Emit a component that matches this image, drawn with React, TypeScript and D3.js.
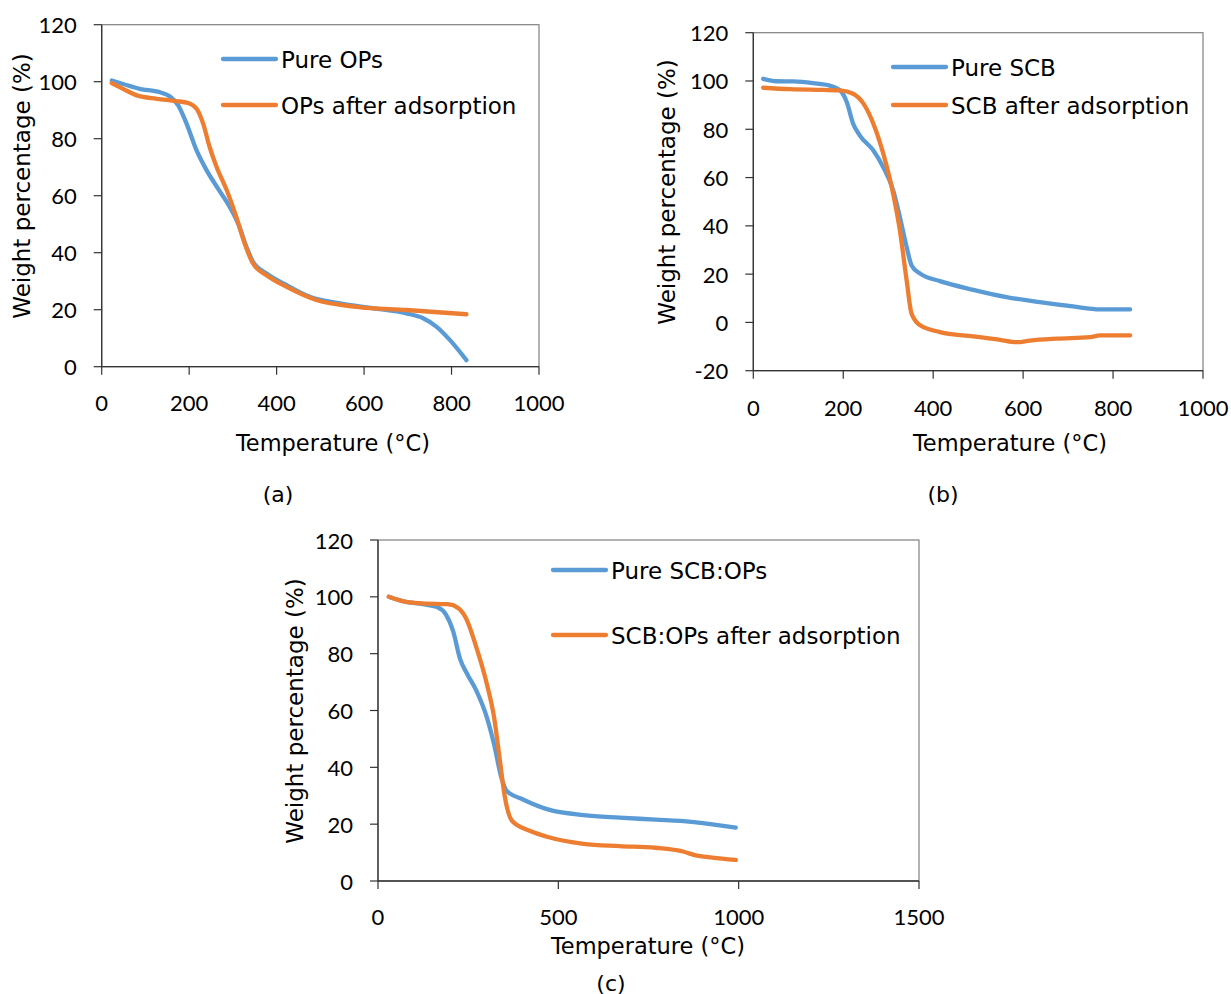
import React from "react";
import * as d3 from "d3";

// ---------- DATA ----------
// Panel (a)
const aPureT = [23, 49, 87, 133, 156, 175, 194, 217, 240, 266, 293, 312, 331, 346, 377, 423, 476, 545, 621, 697, 735, 766, 796, 834];
const aPureW = [100.4, 99.2, 97.5, 96.3, 94.8, 91.7, 85.3, 75.9, 68.9, 62.5, 56, 50.2, 42, 36.8, 32.7, 28.6, 24.5, 22.2, 20.5, 18.7, 17, 14, 9.4, 2.3];
const aAdsT = [23, 49, 80, 126, 171, 198, 217, 232, 247, 263, 286, 308, 327, 346, 377, 423, 491, 583, 697, 834];
const aAdsW = [99.5, 97.5, 95.2, 94, 93.2, 92.5, 90.5, 85.3, 77, 70, 61.9, 52.5, 43.2, 36.2, 32.1, 28, 23.4, 21, 19.9, 18.4];

// Panel (b)
const bPureT = [22, 52, 89, 133, 170, 193, 208, 222, 237, 267, 289, 311, 326, 341, 352, 371, 415, 489, 563, 637, 711, 771, 838];
const bPureW = [100.9, 99.9, 99.8, 99.1, 98.1, 96.1, 91.2, 82.3, 77.4, 71.2, 64.3, 54.7, 43.6, 31.2, 23.6, 20.2, 17.1, 13.5, 10.5, 8.4, 6.6, 5.4, 5.4];
const bAdsT = [22, 82, 156, 193, 222, 245, 267, 289, 311, 326, 341, 352, 371, 415, 489, 549, 586, 615, 675, 749, 771, 838];
const bAdsW = [97.2, 96.6, 96.3, 96.1, 94.7, 90.6, 82.3, 69.9, 53.3, 38.1, 17.4, 3.6, -1.2, -4, -5.8, -7.2, -8.2, -7.5, -6.7, -6.1, -5.4, -5.4];

// Panel (c)
const cPureT = [30, 74, 124, 164, 188, 208, 228, 248, 273, 302, 322, 342, 357, 402, 471, 570, 670, 769, 868, 927, 992];
const cPureW = [100, 98.3, 97.4, 96.4, 93.8, 88, 78, 72.7, 66.9, 57.5, 48, 36.4, 31.7, 28.7, 25.2, 23.2, 22.3, 21.6, 20.8, 19.9, 18.8];
const cAdsT = [30, 74, 124, 193, 223, 243, 273, 302, 322, 337, 352, 372, 422, 471, 570, 670, 769, 848, 878, 927, 992];
const cAdsW = [100, 98.3, 97.7, 97.4, 96, 92.7, 82.1, 69.2, 57.5, 43.4, 29.3, 21.1, 17.6, 15.5, 13.1, 12.3, 11.7, 10.3, 9.1, 8.2, 7.4];

// Ticks
const xTicksAB = [0, 200, 400, 600, 800, 1000];
const xTicksC = [0, 500, 1000, 1500];
const yTicksAC = [0, 20, 40, 60, 80, 100, 120];
const yTicksB = [-20, 0, 20, 40, 60, 80, 100, 120];

// Labels
const xTitle = "Temperature (°C)";
const yTitle = "Weight percentage (%)";
const legendA = ["Pure OPs", "OPs after adsorption"];
const legendB = ["Pure SCB", "SCB after adsorption"];
const legendC = ["Pure SCB:OPs", "SCB:OPs after adsorption"];
const captions = ["(a)", "(b)", "(c)"];

// ---------- STYLE ----------
const BLUE = "#5B9BD5";
const ORANGE = "#ED7D31";
const TEXT_FONT = "'DejaVu Sans', sans-serif";
const NUM_FONT = "Lato, 'DejaVu Sans', sans-serif";
const TXT = "#000";

type Series = { t: number[]; w: number[]; color: string; label: string };

type PanelProps = {
  left: number; right: number; top: number; bottom: number;
  xDomain: [number, number]; yDomain: [number, number];
  xTicks: number[]; yTicks: number[];
  series: Series[];
  legendX: number; legendY: number[];
  xTitleX: number; xTitleY: number; yTitleX: number; yTitleCY: number;
  xLabelDy: number;
};

function Panel(p: PanelProps) {
  const x = d3.scaleLinear().domain(p.xDomain).range([p.left, p.right]);
  const y = d3.scaleLinear().domain(p.yDomain).range([p.bottom, p.top]);
  const line = d3
    .line<[number, number]>()
    .x((d) => x(d[0]))
    .y((d) => y(d[1]))
    .curve(d3.curveMonotoneX);
  const tick = 8;
  return (
    <g>
      <rect
        x={p.left}
        y={p.top}
        width={p.right - p.left}
        height={p.bottom - p.top}
        fill="white"
        stroke="#808080"
        strokeWidth={1.2}
      />
      {/* y axis */}
      <line x1={p.left} x2={p.left} y1={p.top} y2={p.bottom} stroke="#333" strokeWidth={1.3} />
      {p.yTicks.map((v) => (
        <g key={"y" + v}>
          <line x1={p.left - tick} x2={p.left} y1={y(v)} y2={y(v)} stroke="#333" strokeWidth={1.2} />
          <text
            x={p.left - 25}
            y={y(v)}
            textAnchor="end"
            dominantBaseline="central"
            fontFamily={NUM_FONT}
            fontSize={22}
            fill={TXT}
          >
            {v}
          </text>
        </g>
      ))}
      {/* x axis */}
      <line x1={p.left} x2={p.right} y1={p.bottom} y2={p.bottom} stroke="#333" strokeWidth={1.3} />
      {p.xTicks.map((v) => (
        <g key={"x" + v}>
          <line x1={x(v)} x2={x(v)} y1={p.bottom} y2={p.bottom + tick} stroke="#333" strokeWidth={1.2} />
          <text
            x={x(v)}
            y={p.bottom + p.xLabelDy}
            textAnchor="middle"
            dominantBaseline="central"
            fontFamily={NUM_FONT}
            fontSize={22}
            fill={TXT}
          >
            {v}
          </text>
        </g>
      ))}
      {/* series */}
      {p.series.map((s, i) => (
        <path
          key={"s" + i}
          d={line(s.t.map((t, j) => [t, s.w[j]] as [number, number])) || ""}
          fill="none"
          stroke={s.color}
          strokeWidth={4.3}
          strokeLinecap="round"
          strokeLinejoin="round"
        />
      ))}
      {/* legend */}
      {p.series.map((s, i) => (
        <g key={"l" + i}>
          <line
            x1={p.legendX}
            x2={p.legendX + 53}
            y1={p.legendY[i]}
            y2={p.legendY[i]}
            stroke={s.color}
            strokeWidth={4.3}
            strokeLinecap="round"
          />
          <text
            x={p.legendX + 58}
            y={p.legendY[i] + 1}
            dominantBaseline="central"
            fontFamily={TEXT_FONT}
            fontSize={23}
            fill={TXT}
          >
            {s.label}
          </text>
        </g>
      ))}
      {/* titles */}
      <text
        x={p.xTitleX}
        y={p.xTitleY}
        textAnchor="middle"
        dominantBaseline="central"
        fontFamily={TEXT_FONT}
        fontSize={22.5}
        fill={TXT}
      >
        {xTitle}
      </text>
      <text
        transform={`translate(${p.yTitleX},${p.yTitleCY}) rotate(-90)`}
        textAnchor="middle"
        dominantBaseline="central"
        fontFamily={TEXT_FONT}
        fontSize={23}
        fill={TXT}
      >
        {yTitle}
      </text>
    </g>
  );
}

export default function App() {
  return (
    <svg
      width={1231}
      height={994}
      style={{ position: "absolute", left: 0, top: 0, background: "white" }}
    >
      <rect x={0} y={0} width={1231} height={994} fill="white" />
      <Panel
        left={101.7}
        right={539}
        top={24.7}
        bottom={366.7}
        xDomain={[0, 1000]}
        yDomain={[0, 120]}
        xTicks={xTicksAB}
        yTicks={yTicksAC}
        series={[
          { t: aPureT, w: aPureW, color: BLUE, label: legendA[0] },
          { t: aAdsT, w: aAdsW, color: ORANGE, label: legendA[1] },
        ]}
        legendX={223}
        legendY={[59, 105]}
        xTitleX={333}
        xTitleY={443}
        yTitleX={22}
        yTitleCY={186}
        xLabelDy={36}
      />
      <Panel
        left={753.3}
        right={1203}
        top={32.7}
        bottom={370.7}
        xDomain={[0, 1000]}
        yDomain={[-20, 120]}
        xTicks={xTicksAB}
        yTicks={yTicksB}
        series={[
          { t: bPureT, w: bPureW, color: BLUE, label: legendB[0] },
          { t: bAdsT, w: bAdsW, color: ORANGE, label: legendB[1] },
        ]}
        legendX={893}
        legendY={[67, 105]}
        xTitleX={1010}
        xTitleY={443}
        yTitleX={667}
        yTitleCY={192}
        xLabelDy={37}
      />
      <Panel
        left={378}
        right={919}
        top={540}
        bottom={881}
        xDomain={[0, 1500]}
        yDomain={[0, 120]}
        xTicks={xTicksC}
        yTicks={yTicksAC}
        series={[
          { t: cPureT, w: cPureW, color: BLUE, label: legendC[0] },
          { t: cAdsT, w: cAdsW, color: ORANGE, label: legendC[1] },
        ]}
        legendX={553}
        legendY={[570, 635]}
        xTitleX={648}
        xTitleY={946}
        yTitleX={295}
        yTitleCY={711}
        xLabelDy={35}
      />
      <text x={278} y={494} textAnchor="middle" dominantBaseline="central" fontFamily={TEXT_FONT} fontSize={22} fill={TXT}>
        {captions[0]}
      </text>
      <text x={943} y={494} textAnchor="middle" dominantBaseline="central" fontFamily={TEXT_FONT} fontSize={22} fill={TXT}>
        {captions[1]}
      </text>
      <text x={611} y={983} textAnchor="middle" dominantBaseline="central" fontFamily={TEXT_FONT} fontSize={22} fill={TXT}>
        {captions[2]}
      </text>
    </svg>
  );
}
